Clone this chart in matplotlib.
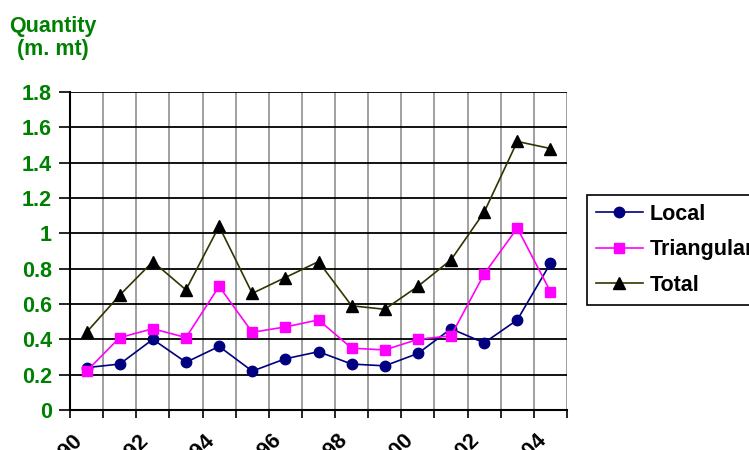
import matplotlib
matplotlib.use('Agg')
import matplotlib.pyplot as plt
import numpy as np

plt.rcParams['font.family'] = ['Liberation Sans', 'DejaVu Sans']
plt.rcParams['font.weight'] = 'bold'

years = [str(y) for y in range(1990, 2005)]
local = [0.24, 0.26, 0.40, 0.27, 0.36, 0.22, 0.29, 0.33, 0.26, 0.25, 0.32, 0.46, 0.38, 0.51, 0.83]
triangular = [0.22, 0.41, 0.46, 0.41, 0.70, 0.44, 0.47, 0.51, 0.35, 0.34, 0.40, 0.42, 0.77, 1.03, 0.67]
total = [0.44, 0.65, 0.84, 0.68, 1.04, 0.66, 0.75, 0.84, 0.59, 0.57, 0.70, 0.85, 1.12, 1.52, 1.48]
y_ticks = [0, 0.2, 0.4, 0.6, 0.8, 1, 1.2, 1.4, 1.6, 1.8]
y_tick_labels = ['0', '0.2', '0.4', '0.6', '0.8', '1', '1.2', '1.4', '1.6', '1.8']

green = '#008000'
fs = 15.5

fig = plt.figure(figsize=(7.49, 4.5), dpi=100)
ax = fig.add_axes([70 / 749, 40 / 450, 497 / 749, 318 / 450])

x = np.arange(len(years))
ax.plot(x, local, color='#000080', lw=1.2, marker='o', ms=7.5, label='Local', zorder=5)
ax.plot(x, triangular, color='#ff00ff', lw=1.2, marker='s', ms=7, label='Triangular', zorder=5)
ax.plot(x, total, color='#333300', lw=1.2, marker='^', ms=9, mfc='black', mec='black',
        label='Total', zorder=5)

ax.set_xlim(-0.5, len(years) - 0.5)
ax.set_ylim(0, 1.8)

# boundaries between categories carry the tick marks and vertical grid
ax.set_xticks(np.arange(len(years) + 1) - 0.5)
ax.set_xticklabels([])
ax.set_xticks(x[::2], years[::2], minor=True)
ax.tick_params(axis='x', which='major', direction='out', length=6, width=1.2, color='black')
ax.tick_params(axis='x', which='minor', length=0, pad=14)
for lbl in ax.get_xticklabels(minor=True):
    lbl.set_rotation(45)
    lbl.set_ha('right')
    lbl.set_fontsize(fs)
    lbl.set_fontweight('bold')

ax.set_yticks(y_ticks, y_tick_labels)
ax.tick_params(axis='y', direction='out', length=8, width=1.2, pad=5, labelsize=fs,
               labelcolor=green)

ax.xaxis.grid(True, which='major', color='#999999', lw=1.3)
ax.yaxis.grid(True, color='black', lw=1.3)
ax.set_axisbelow(True)

for side in ['top', 'right']:
    ax.spines[side].set_visible(False)
ax.spines['left'].set_linewidth(1.5)
ax.spines['bottom'].set_linewidth(1.5)

fig.text(53 / 749, 1 - 16 / 450, 'Quantity\n(m. mt)', color=green, fontsize=fs,
         fontweight='bold', ha='center', va='top', multialignment='center',
         linespacing=1.15)

leg = fig.legend(loc='upper left', bbox_to_anchor=(587 / 749, 1 - 195 / 450),
                 borderaxespad=0, frameon=True, fancybox=False,
                 edgecolor='black', framealpha=1, handlelength=2.2,
                 handletextpad=0.3, labelspacing=0.68, borderpad=0.4,
                 prop={'weight': 'bold', 'size': fs})
leg.get_frame().set_linewidth(1.2)

fig.savefig('out.png', dpi=100)
